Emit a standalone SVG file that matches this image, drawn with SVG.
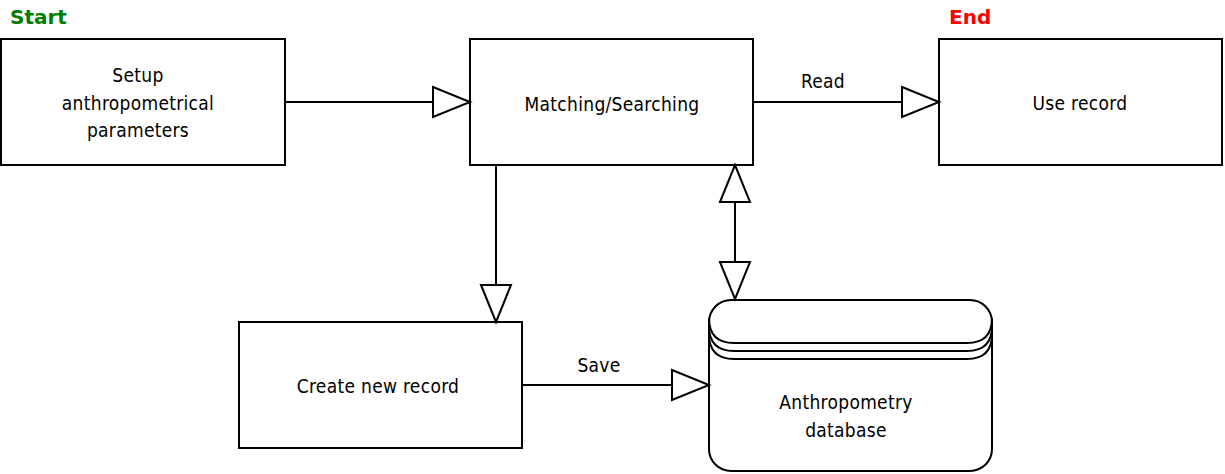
<svg xmlns="http://www.w3.org/2000/svg" width="1225" height="474" viewBox="0 0 1225 474">
<style>
.box{fill:#fff;stroke:#000;stroke-width:2}
.ln{fill:none;stroke:#000;stroke-width:2}
.ah{fill:#fff;stroke:#000;stroke-width:2;stroke-linejoin:miter}
.t{font-family:"DejaVu Sans Condensed","DejaVu Sans",sans-serif;font-stretch:condensed;font-size:19px;letter-spacing:0.3px;fill:#000;text-anchor:middle}
.h{font-family:"DejaVu Sans",Verdana,sans-serif;font-size:20px;font-weight:bold}
</style>
<rect width="1225" height="474" fill="#fff"/>
<text class="h" x="10" y="24" fill="#008000">Start</text>
<text class="h" x="949" y="24" fill="#ff0000">End</text>
<g id="setup">
<rect class="box" x="1" y="39" width="284" height="126"/>
<text class="t" x="138" y="82">Setup</text>
<text class="t" x="138" y="110">anthropometrical</text>
<text class="t" x="138" y="137">parameters</text>
</g>
<g id="matching">
<rect class="box" x="470" y="39" width="283" height="126"/>
<text class="t" x="612" y="111">Matching/Searching</text>
</g>
<g id="use">
<rect class="box" x="939" y="39" width="283" height="126"/>
<text class="t" x="1080" y="110">Use record</text>
</g>
<g id="create">
<rect class="box" x="239" y="322" width="283" height="126"/>
<text class="t" x="378" y="393">Create new record</text>
</g>
<g id="database">
<rect class="box" x="709" y="300" width="283" height="171" rx="22" ry="22"/>
<path class="ln" d="M709,318 Q709,343 734,343 H967 Q992,343 992,318"/>
<path class="ln" d="M709,326 Q709,351 734,351 H967 Q992,351 992,326"/>
<path class="ln" d="M709,334 Q709,359 734,359 H967 Q992,359 992,334"/>
<text class="t" x="846" y="409">Anthropometry</text>
<text class="t" x="846" y="437">database</text>
</g>
<g id="connectors">
<line class="ln" x1="285" y1="102" x2="433" y2="102"/>
<polygon class="ah" points="433,87 470,102 433,117"/>
<line class="ln" x1="753" y1="102" x2="902" y2="102"/>
<polygon class="ah" points="902,87 939,102 902,117"/>
<text class="t" x="823" y="88">Read</text>
<line class="ln" x1="496" y1="165" x2="496" y2="285"/>
<polygon class="ah" points="481,285 496,322 511,285"/>
<line class="ln" x1="735" y1="202" x2="735" y2="262"/>
<polygon class="ah" points="720,202 735,165 750,202"/>
<polygon class="ah" points="720,262 735,299 750,262"/>
<line class="ln" x1="522" y1="385" x2="672" y2="385"/>
<polygon class="ah" points="672,370 709,385 672,400"/>
<text class="t" x="599" y="372">Save</text>
</g>
</svg>
